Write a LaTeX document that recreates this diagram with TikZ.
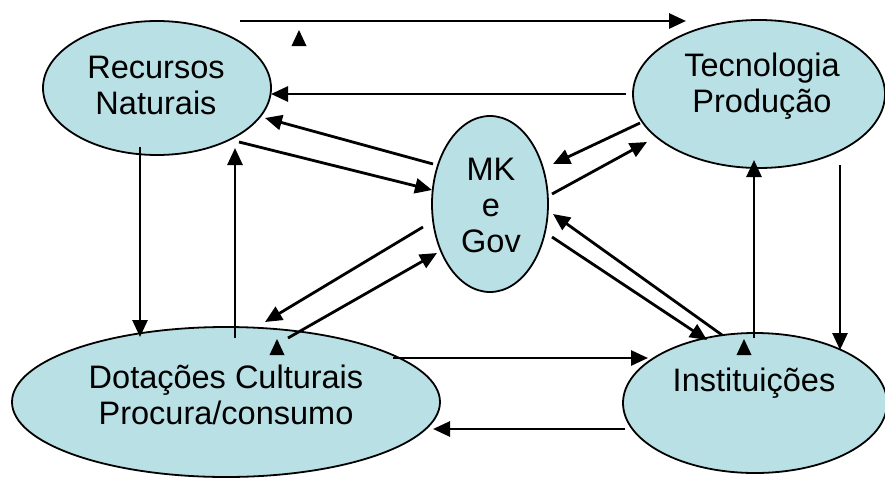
\documentclass[tikz,border=0pt]{standalone}
\usepackage{fontspec}
\setmainfont{Liberation Sans}
\usetikzlibrary{shapes.geometric,arrows.meta}
\definecolor{blobfill}{RGB}{185,224,228}
\tikzset{
  blob/.style={ellipse, draw=black, line width=1.8pt, fill=blobfill, inner sep=0pt},
  lbl/.style={align=center, font=\fontsize{32.5}{36}\selectfont, inner sep=0pt},
  conn/.style={line width=2.8pt, -{Triangle[length=17pt,width=15pt]}},
  stray/.style={fill=black}
}
\begin{document}
\begin{tikzpicture}[x=1pt,y=-1pt]
\useasboundingbox (0,0) rectangle (885,479);
% ellipses
\node[blob, minimum width=228pt, minimum height=134pt] (rn) at (157,88) {};
\node[blob, minimum width=252pt, minimum height=148pt] (tp) at (759,94) {};
\node[blob, minimum width=116pt, minimum height=176pt] (mk) at (490,204) {};
\node[blob, minimum width=428pt, minimum height=150pt] (dc) at (226,402) {};
\node[blob, minimum width=264pt, minimum height=140pt] (in) at (755,403) {};
% labels
\node[lbl] (rnt) at (156,85) {Recursos\\Naturais};
\node[lbl] (tpt) at (762,86) {Tecnologia\\Produção};
\node[lbl] (mkt) at (491,205) {MK\\e\\Gov};
\node[lbl] (dct) at (226,395) {Dotações Culturais\\Procura/consumo};
\node[lbl] (int) at (754,383) {Instituições};
% endpoints
\coordinate (a1) at (240,21);  \coordinate (b1) at (686,21);
\coordinate (a2) at (626,94);  \coordinate (b2) at (271,94);
\coordinate (a3) at (433,164); \coordinate (b3) at (265,118);
\coordinate (a4) at (239,142); \coordinate (b4) at (432,190);
\coordinate (a5) at (640,123); \coordinate (b5) at (553,164);
\coordinate (a6) at (552,194); \coordinate (b6) at (647,142);
\coordinate (a7) at (423,227); \coordinate (b7) at (265,322);
\coordinate (a8) at (288,338); \coordinate (b8) at (437,253);
\coordinate (a9) at (722,335); \coordinate (b9) at (553,214);
\coordinate (a10) at (552,237); \coordinate (b10) at (707,340);
\coordinate (a11) at (754,338); \coordinate (b11) at (754,160);
\coordinate (a12) at (840,165); \coordinate (b12) at (840,350);
\coordinate (a13) at (140,147); \coordinate (b13) at (140,337);
\coordinate (a14) at (235,338); \coordinate (b14) at (235,148);
\coordinate (a15) at (393,358); \coordinate (b15) at (648,358);
\coordinate (a16) at (625,429); \coordinate (b16) at (433,429);
% connectors
\draw[conn] (a1) -- (b1);
\draw[conn] (a2) -- (b2);
\draw[conn] (a3) -- (b3);
\draw[conn] (a4) -- (b4);
\draw[conn] (a5) -- (b5);
\draw[conn] (a6) -- (b6);
\draw[conn] (a7) -- (b7);
\draw[conn] (a8) -- (b8);
\draw[conn] (a9) -- (b9);
\draw[conn] (a10) -- (b10);
\draw[conn] (a11) -- (b11);
\draw[conn] (a12) -- (b12);
\draw[conn] (a13) -- (b13);
\draw[conn] (a14) -- (b14);
\draw[conn] (a15) -- (b15);
\draw[conn] (a16) -- (b16);
% stray triangle markers
\fill[stray] (299,30) -- (306.5,46) -- (291.5,46) -- cycle;
\fill[stray] (277,339) -- (284.5,355) -- (269.5,355) -- cycle;
\fill[stray] (744,339) -- (751.5,355) -- (736.5,355) -- cycle;
\end{tikzpicture}
\end{document}
